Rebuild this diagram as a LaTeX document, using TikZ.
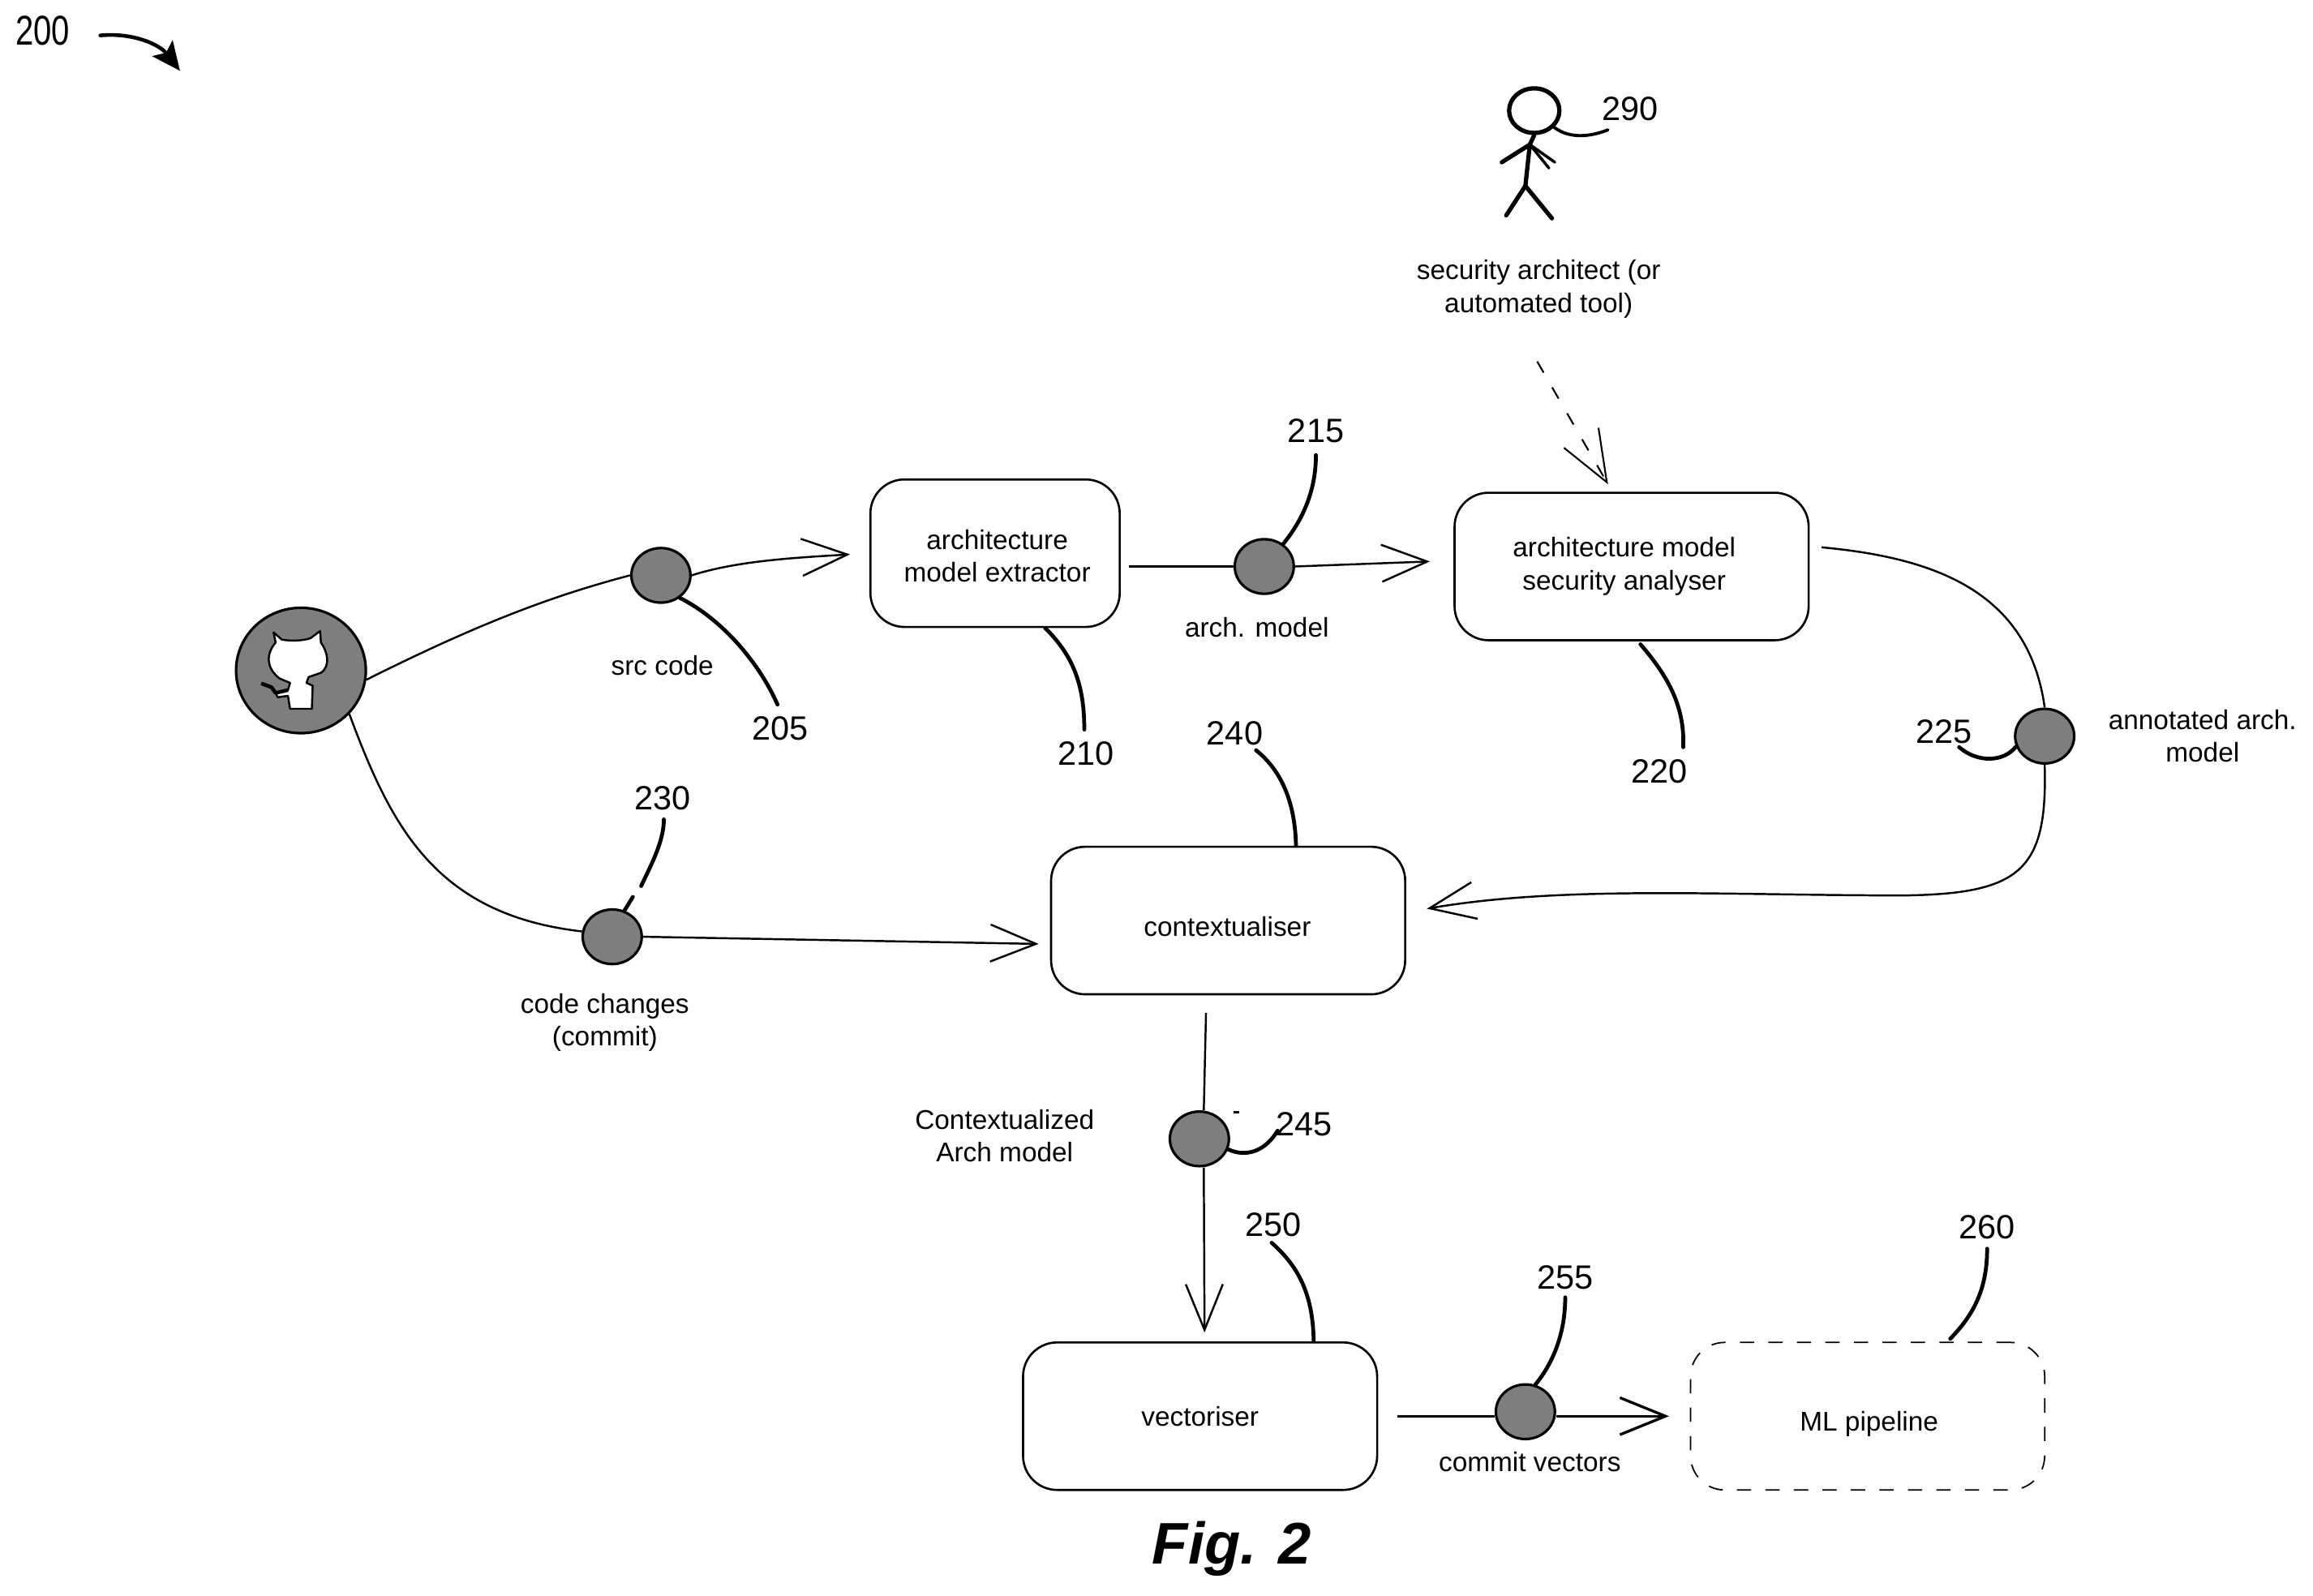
\documentclass[tikz,border=0pt]{standalone}
\usepackage{fontspec}
\setmainfont{Liberation Sans}
\newfontfamily\refwide{Liberation Sans}
\newfontfamily\refnarrow[FakeStretch=0.78]{Liberation Sans}
\usetikzlibrary{arrows.meta,calc,shapes.geometric}
\definecolor{blobgray}{HTML}{7E7E7E}
\tikzset{
  txt/.style={font=\fontsize{9.5}{11.5}\selectfont,align=center,inner sep=0pt},
  refnum/.style={font=\refwide\fontsize{11.8}{13}\selectfont,inner sep=0pt},
  box/.style={draw,line width=0.75pt,rounded corners=4.2mm,minimum height=18.19mm,font=\fontsize{9.5}{11.5}\selectfont,align=center,inner sep=0pt},
  wide/.style={minimum width=43.66mm},
  narrow/.style={minimum width=30.74mm},
  blob/.style={draw,ellipse,fill=blobgray,line width=0.9pt,minimum width=7.28mm,minimum height=6.73mm,inner sep=0pt},
  conn/.style={line width=0.7pt},
  barb/.style={conn,-{Straight Barb[length=16pt,width=13pt]}},
  leader/.style={line width=1.35pt,line cap=round},
  person/.style={line width=1.5pt,line cap=round,line join=round}
}
\begin{document}
\begin{tikzpicture}[x=0.1819mm,y=-0.1819mm]
\useasboundingbox (0,0) rectangle (1567.9,1081.4);
% nodes
\node[box,narrow] (ext) at (674.5,375) {};
\node[txt] (extlabel) at (676,377) {architecture\\model extractor};
\node[box,wide] (ana) at (1106,384) {};
\node[txt] (analabel) at (1101,384) {architecture model\\security analyser};
\node[box,wide] (ctx) at (832.5,624) {};
\node[txt] (ctxlabel) at (832,628) {contextualiser};
\node[box,wide] (vec) at (813.5,960) {vectoriser};
\node[box,wide,dash pattern=on 5pt off 5pt,line width=0.5pt] (ml) at (1266,960) {};
\node[txt] (mllabel) at (1267,965) {ML pipeline};
\node[draw,ellipse,fill=blobgray,line width=0.9pt,minimum width=16mm,minimum height=15.46mm,inner sep=0pt] (gh) at (204,454.5) {};
\node[blob] (b205) at (448,390) {};
\node[blob] (b215) at (857,384) {};
\node[blob] (b230) at (415,635) {};
\node[blob] (b225) at (1386,499) {};
\node[blob] (b245) at (813,772) {};
\node[blob] (b255) at (1034,957) {};
% octocat
\begin{scope}[shift={(142.2,373)},xscale=0.279,yscale=0.1954]
  \draw[fill=white,line width=0.7pt,line join=round] (155,285) -- (175,310) .. controls (195,315) and (225,315) .. (245,305) -- (268,280) -- (270,320) .. controls (285,350) and (295,400) .. (270,425) -- (240,440) -- (235,460) -- (250,470) -- (248,550) -- (195,550) -- (190,505) -- (165,510) -- (160,495) -- (190,485) -- (195,460) -- (170,445) .. controls (145,420) and (130,370) .. (160,320) -- cycle;
  \draw[line width=1.3pt,line join=round] (125,462) -- (150,475) -- (160,495) -- (190,485);
\end{scope}
% person
\node[draw,ellipse,line width=1.5pt,minimum width=6.2mm,minimum height=5.5mm,inner sep=0pt] (head) at (1040,75) {};
\coordinate (neck) at (1037,98);
\coordinate (hip) at (1034,126);
\draw[person] (head.south) -- (neck) -- (hip);
\draw[person] (neck) -- (1018,110);
\draw[person,line width=1pt] (neck) -- (1054,110);
\draw[person,line width=1pt] (neck) -- (1050,114);
\draw[person] (hip) -- (1021,146);
\draw[person] (hip) -- (1052,148);
% texts
\node[txt] (tsrc) at (449,451) {src code};
\node[txt] (tarch) at (852,425) {arch. model};
\node[txt] (tcode) at (410,693) {code changes\\(commit)};
\node[txt] (tann) at (1493,499) {annotated arch.\\model};
\node[txt] (tctx) at (681,770) {Contextualized\\Arch model};
\node[txt] (tcv) at (1037,991) {commit vectors};
\node[txt] (sec) at (1043,196) {security architect (or\\automated tool)};
\node[inner sep=0pt,font=\fontsize{20.6}{24}\selectfont\bfseries\itshape] (fig) at (835,1050) {Fig. 2};
% reference numbers
\node[font=\refnarrow\fontsize{14.6}{16}\selectfont,inner sep=0pt] (n200) at (29,21) {200};
\node[refnum] (n205) at (529,494) {205};
\node[refnum] (n210) at (736,511) {210};
\node[refnum] (n215) at (892,292) {215};
\node[refnum] (n220) at (1125,523) {220};
\node[refnum] (n225) at (1318,496) {225};
\node[refnum] (n230) at (449,541) {230};
\node[refnum] (n240) at (837,497) {240};
\node[refnum] (n245) at (884,762) {245};
\node[refnum] (n250) at (863,830) {250};
\node[refnum] (n255) at (1061,866) {255};
\node[refnum] (n260) at (1347,832) {260};
\node[refnum] (n290) at (1105,74) {290};
% figure arrow
\coordinate (a200s) at (68,24);
\coordinate (a200e) at (122,48);
\draw[line width=1.3pt,line cap=round,-{Stealth[length=10pt,width=9pt,inset=2pt]}] (a200s) .. controls (90,22) and (108,30) .. (a200e);
% connectors
\draw[conn] (gh.-8) .. controls (320,425) and (370,405) .. (b205.180);
\draw[barb,shorten >=6.8pt] (b205.east) .. controls (500,380) and (540,378) .. (ext.west);
\draw[conn] (gh.-42) .. controls (265,560) and (295,620) .. (b230.170);
\draw[barb,shorten >=4pt] (b230.east) -- ($(ctx.west)+(0,16)$);
\draw[conn,shorten <=3pt] (ext.east |- b215.west) -- (b215.west);
\draw[barb,shorten >=8.3pt] (b215.east) -- ($(ana.west)+(0,-4)$);
\draw[conn] ($(ana.east)+(8,-13)$) .. controls (1310,378) and (1375,400) .. (b225.north);
\draw[barb] (b225.south) .. controls (1388,590) and (1370,606) .. (1290,607) .. controls (1170,607) and (1060,600) .. ($(ctx.east)+(14,-8)$);
\draw[conn] ($(ctx.south)+(-15,12)$) -- ($(b245.north)+(3,0)$);
\draw[barb] ($(b245.south)+(3,0)$) -- ($(vec.north)+(3,-6)$);
\draw[conn] ($(vec.east)+(13,0)$) -- (vec.east -| b255.west);
\draw[barb,line width=0.95pt,shorten >=7.3pt] (vec.east -| b255.east) -- (ml.west);
\draw[conn,line width=0.6pt,dash pattern=on 4.5pt off 6pt,-{Straight Barb[length=18pt,width=14pt]}] ($(sec.south)+(-1,29)$) -- ($(ana.north)+(-16,-5)$);
% leaders
\draw[leader] (b205.-50) .. controls (490,420) and (515,450) .. ($(n205.north)+(-2,-8)$);
\draw[leader] ($(ext.south)+(34,0)$) .. controls (728,445) and (735,465) .. ($(n210.north)+(-1,-8)$);
\draw[leader] (b215.50) .. controls (885,350) and (892,330) .. ($(n215.south)+(0,8)$);
\draw[leader] ($(ana.south)+(6,2)$) .. controls (1132,460) and (1142,480) .. ($(n220.north)+(16,-8)$);
\draw[leader] ($(n225.south)+(10,2)$) .. controls (1340,517) and (1358,517) .. (b225.200);
\draw[leader] ($(n230.south)+(1,6)$) .. controls (450,570) and (442,585) .. (434.6,600.6);
\draw[leader] (429,608) -- (b230.65);
\draw[leader] ($(n240.north east)+(-5,20)$) .. controls (872,525) and (878,550) .. ($(ctx.north)+(46,0)$);
\draw[leader] (b245.-20) .. controls (845,785) and (858,780) .. ($(n245.south)+(-18,-4)$);
\draw[line width=0.7pt] (836,754) -- (840,754);
\draw[leader] ($(n250.south)+(-1,4)$) .. controls (882,860) and (890,880) .. ($(vec.north)+(77,0)$);
\draw[leader] ($(n255.south)+(0,5)$) .. controls (1061,905) and (1052,925) .. (b255.70);
\draw[leader] ($(n260.south)+(0,6)$) .. controls (1347,875) and (1337,892) .. ($(ml.north)+(56,-2)$);
\draw[leader,line width=1.1pt] (head.-40) .. controls (1065,95) and (1080,92) .. (1090,88);
\end{tikzpicture}
\end{document}
